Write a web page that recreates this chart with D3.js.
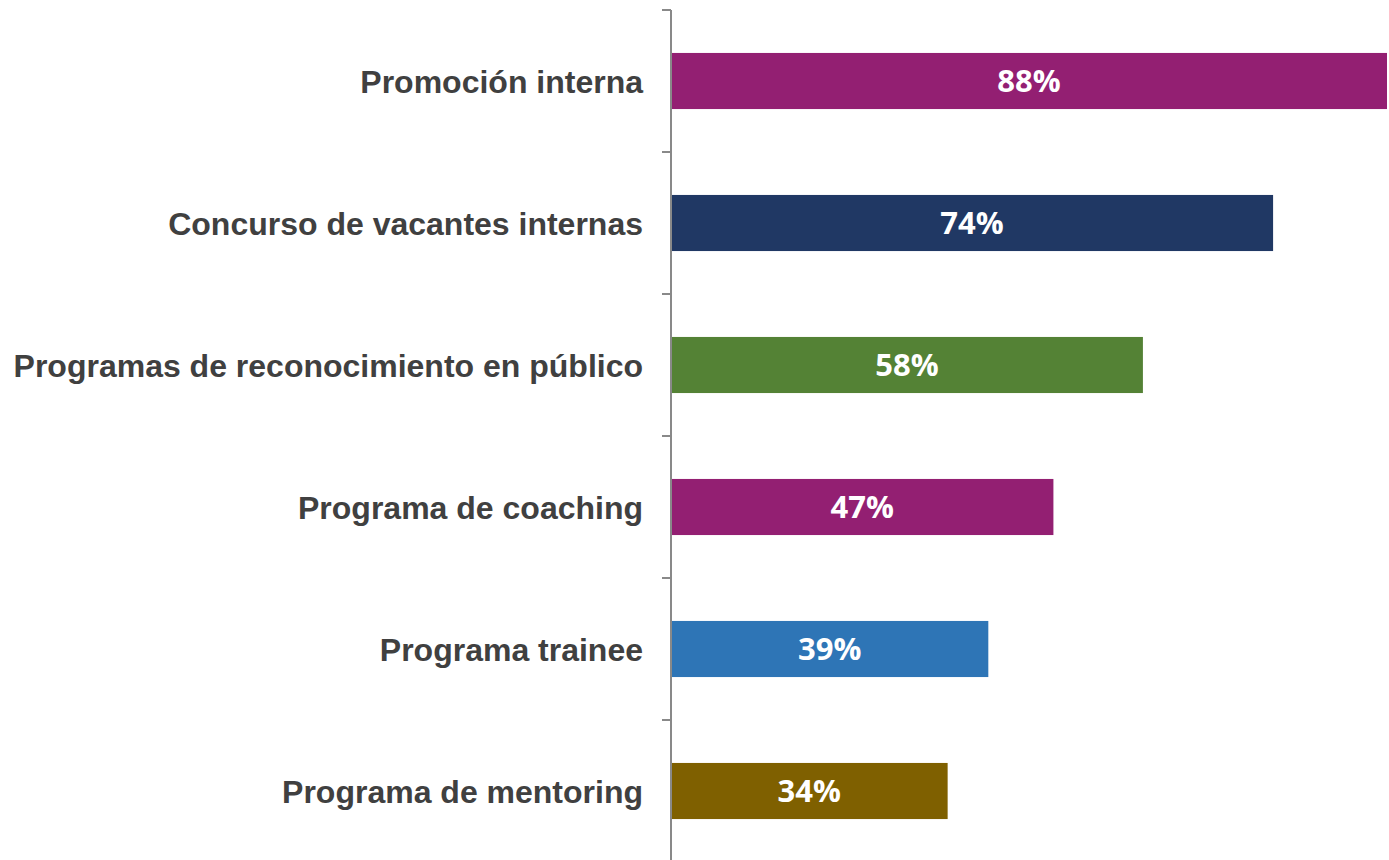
<!DOCTYPE html>
<html><head><meta charset="utf-8">
<script src="https://cdn.jsdelivr.net/npm/d3@7"></script>
<style>body{margin:0;background:#fff}svg{display:block}</style>
</head><body>
<svg id="chart" width="1389" height="860"></svg>
<script>
const categories = ["Promoción interna","Concurso de vacantes internas","Programas de reconocimiento en público","Programa de coaching","Programa trainee","Programa de mentoring"];
const values = [88, 74, 58, 47, 39, 34];
const colors = ["#931F72","#203864","#548235","#931F72","#2E75B6","#7F6000"];

const svg = d3.select("#chart");
const x0 = 671;
const x = d3.scaleLinear().domain([0, 88]).range([x0, 1387]);
const y = d3.scaleBand().domain(categories).range([10, 862]).paddingInner(0.605).paddingOuter(0.3025);

// bars
svg.selectAll("rect.bar").data(values).join("rect")
  .attr("x", x(0)).attr("y", (d,i)=>y(categories[i]))
  .attr("width", d=>x(d)-x(0)).attr("height", y.bandwidth())
  .attr("fill", (d,i)=>colors[i]);

// value labels
svg.selectAll("text.val").data(values).join("text")
  .attr("x", d=>(x(0)+x(d))/2)
  .attr("y", (d,i)=>y(categories[i])+y.bandwidth()/2)
  .attr("dy","0.36em").attr("text-anchor","middle")
  .attr("font-family","'Open Sans', sans-serif").attr("font-weight","bold")
  .attr("font-size","31px").attr("fill","#fff")
  .text(d=>d+"%");

// axis line and ticks
const step = y.step();
const tickYs = d3.range(categories.length+1).map(i=>10+i*step);
svg.append("line").attr("x1",x0).attr("x2",x0).attr("y1",10).attr("y2",860)
  .attr("stroke","#898989").attr("stroke-width",2);
svg.selectAll("line.tick").data(tickYs).join("line")
  .attr("x1",662).attr("x2",x0).attr("y1",d=>d).attr("y2",d=>d)
  .attr("stroke","#898989").attr("stroke-width",2);

// category labels
svg.selectAll("text.cat").data(categories).join("text")
  .attr("x", 643).attr("y", d=>y(d)+y.bandwidth()/2)
  .attr("dy","0.36em").attr("text-anchor","end")
  .attr("font-family","'Liberation Sans', Arial, sans-serif").attr("font-weight","bold")
  .attr("font-size","32px").attr("fill","#404040")
  .text(d=>d);
</script>
</body></html>
